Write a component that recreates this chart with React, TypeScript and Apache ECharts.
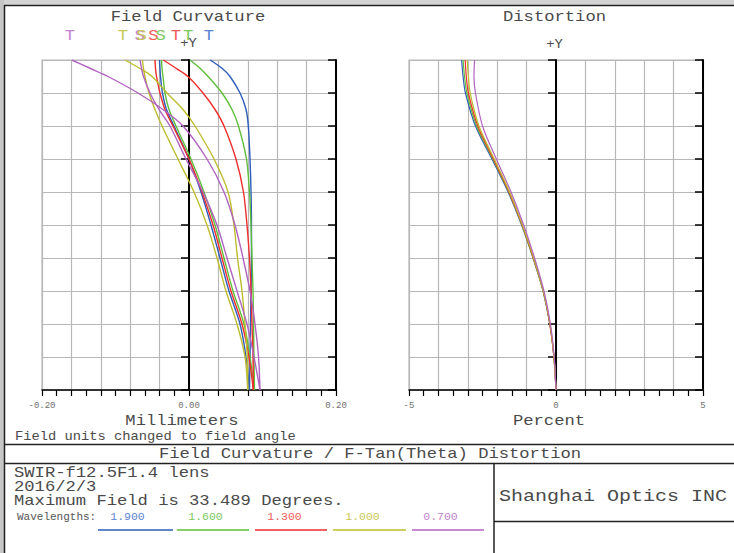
import React, { useEffect, useRef } from 'react';
import * as echarts from 'echarts';

// ---------- data ----------
const wavelengths = ['1.900', '1.600', '1.300', '1.000', '0.700'];
const lineColors = ['#2d5cba', '#5fbf3a', '#ee2d2d', '#bdbd2d', '#b163c0'];
const textColors = ['#5a84d2', '#7cc85c', '#f25a5a', '#c9c956', '#c284cc'];

// normalized field (0 .. 1 => 0 .. 33.489 deg)
const fieldFractions = [0, 0.1, 0.2, 0.3, 0.4, 0.5, 0.6, 0.7, 0.8, 0.85, 0.9, 0.95, 0.975, 1.0];

// field curvature, mm (tangential)
const tan1900 = [0.0823, 0.083, 0.0837, 0.0844, 0.085, 0.085, 0.0844, 0.083, 0.0807, 0.0776, 0.0694, 0.0558, 0.0449, 0.0286];
const tan1600 = [0.0891, 0.0884, 0.0878, 0.0871, 0.0857, 0.0844, 0.0823, 0.0782, 0.0673, 0.0585, 0.0449, 0.0259, 0.015, 0.0014];
const tan1300 = [0.0875, 0.0871, 0.0857, 0.0844, 0.0823, 0.0789, 0.0741, 0.0639, 0.0476, 0.0354, 0.019, -0.0014, -0.0177, -0.035];
const tan1000 = [0.0799, 0.0793, 0.0762, 0.0721, 0.066, 0.0612, 0.0531, 0.034, 0.0082, -0.0082, -0.0299, -0.0503, -0.0673, -0.0871];
const tan0700 = [0.0966, 0.0946, 0.0898, 0.083, 0.0735, 0.0626, 0.0476, 0.0245, -0.0082, -0.0354, -0.0694, -0.1102, -0.1347, -0.1596];

// field curvature, mm (sagittal)
const sag1900 = [0.0823, 0.0776, 0.0694, 0.0544, 0.0422, 0.0299, 0.0163, 0.0, -0.0204, -0.0306, -0.0361, -0.0388, -0.0395, -0.0401];
const sag1600 = [0.0891, 0.083, 0.0748, 0.0599, 0.0476, 0.0354, 0.0204, 0.0027, -0.0177, -0.0272, -0.0327, -0.0354, -0.0367, -0.0374];
const sag1300 = [0.0875, 0.0816, 0.0721, 0.0571, 0.0449, 0.0327, 0.0177, 0.0, -0.0218, -0.0327, -0.0395, -0.0442, -0.0456, -0.0463];
const sag1000 = [0.0799, 0.0762, 0.0653, 0.0503, 0.0381, 0.0245, 0.0068, -0.015, -0.0367, -0.0463, -0.0544, -0.0599, -0.0619, -0.0635];
const sag0700 = [0.0966, 0.0884, 0.0789, 0.0653, 0.0517, 0.0381, 0.019, -0.0041, -0.0259, -0.0408, -0.0531, -0.0619, -0.0646, -0.0667];

// distortion, percent
const distFractions = [0, 0.1, 0.2, 0.3, 0.4, 0.5, 0.6, 0.7, 0.8, 0.9, 0.95, 1.0];
const dist1900 = [0, -0.07, -0.21, -0.44, -0.78, -1.17, -1.63, -2.18, -2.74, -3.08, -3.16, -3.21];
const dist1600 = [0, -0.07, -0.21, -0.44, -0.78, -1.16, -1.61, -2.15, -2.7, -3.03, -3.11, -3.16];
const dist1300 = [0, -0.07, -0.21, -0.43, -0.77, -1.15, -1.6, -2.13, -2.66, -2.98, -3.05, -3.09];
const dist1000 = [0, -0.07, -0.2, -0.43, -0.76, -1.14, -1.58, -2.1, -2.62, -2.92, -2.98, -3.02];
const dist0700 = [0, -0.06, -0.19, -0.41, -0.73, -1.1, -1.53, -2.03, -2.5, -2.74, -2.79, -2.77];

// T / S label positions above the plot (mm)
const tLabelX = [0.0272, -0.001, -0.0177, -0.0898, -0.1619];
const sLabelX = [null, -0.0385, -0.0486, -0.0644, -0.0673];

const fcTicks = ['-0.20', '0.00', '0.20'];
const distTicks = ['-5', '0', '5'];

const tanAll = [tan1900, tan1600, tan1300, tan1000, tan0700];
const sagAll = [sag1900, sag1600, sag1300, sag1000, sag0700];
const distAll = [dist1900, dist1600, dist1300, dist1000, dist0700];

const MONO = '"Liberation Mono", "DejaVu Sans Mono", monospace';
const GRID_C = '#b8b8b8';
const INK = '#4a4a4a';

function txt(text: string, x: number, y: number, o: any = {}) {
  const align = o.align || 'center';
  return {
    type: 'text',
    x,
    y,
    scaleX: o.scaleX ?? 1,
    z: 100,
    silent: true,
    style: {
      text,
      fontFamily: MONO,
      fontSize: o.fontSize ?? 15,
      fill: o.fill ?? INK,
      align,
      textAlign: align,
      verticalAlign: 'middle',
      textVerticalAlign: 'middle',
    },
  };
}

function ln(x1: number, y1: number, x2: number, y2: number, stroke = '#222', lineWidth = 1.5) {
  return { type: 'line', z: 100, silent: true, shape: { x1, y1, x2, y2 }, style: { stroke, lineWidth } };
}

function near(a: number, b: number) {
  return Math.abs(a - b) < 1e-9;
}

export default function App() {
  const ref = useRef<HTMLDivElement>(null);

  useEffect(() => {
    if (!ref.current) return;
    const chart = echarts.init(ref.current, null, { renderer: 'svg' });

    const xAxisBase = (gridIndex: number, min: number, max: number, interval: number, fmt: (v: number) => string) => ({
      gridIndex,
      type: 'value',
      min,
      max,
      interval,
      axisLine: { show: true, onZero: false, lineStyle: { color: '#000', width: 1.5 } },
      axisTick: { show: true, length: 6, inside: false, lineStyle: { color: '#000', width: 1.2 } },
      minorTick: { show: true, splitNumber: 2, length: 6, lineStyle: { color: '#000', width: 1.2 } },
      splitLine: { show: true, lineStyle: { color: GRID_C, width: 1.2 } },
      axisLabel: {
        show: true,
        formatter: fmt,
        fontSize: 9,
        color: '#707070',
        fontFamily: MONO,
        margin: 11,
        showMinLabel: true,
        showMaxLabel: true,
        hideOverlap: false,
      },
    });

    const yAxisBase = (gridIndex: number, inside: boolean, split: boolean) => ({
      gridIndex,
      type: 'value',
      min: 0,
      max: 1,
      interval: 0.1,
      axisLine: { show: true, onZero: true, lineStyle: { color: '#000', width: 2 } },
      axisTick: { show: true, length: 8, inside, lineStyle: { color: '#000', width: 1.5 } },
      axisLabel: { show: false },
      splitLine: { show: split, lineStyle: { color: GRID_C, width: 1.2 } },
    });

    const fcFmt = (v: number) => {
      if (near(v, -0.2)) return fcTicks[0];
      if (near(v, 0)) return fcTicks[1];
      if (near(v, 0.2)) return fcTicks[2];
      return '';
    };
    const dFmt = (v: number) => {
      if (near(v, -5)) return distTicks[0];
      if (near(v, 0)) return distTicks[1];
      if (near(v, 5)) return distTicks[2];
      return '';
    };

    const series: any[] = [];
    wavelengths.forEach((w, i) => {
      series.push({
        name: 'T ' + w,
        type: 'line',
        xAxisIndex: 0,
        yAxisIndex: 0,
        data: fieldFractions.map((f, j) => [tanAll[i][j], f]),
        symbol: 'none',
        showSymbol: false,
        smooth: 0.3,
        silent: true,
        lineStyle: { color: lineColors[i], width: 1.4 },
      });
      series.push({
        name: 'S ' + w,
        type: 'line',
        xAxisIndex: 0,
        yAxisIndex: 0,
        data: fieldFractions.map((f, j) => [sagAll[i][j], f]),
        symbol: 'none',
        showSymbol: false,
        smooth: 0.3,
        silent: true,
        lineStyle: { color: lineColors[i], width: 1.4 },
      });
    });
    wavelengths.forEach((w, i) => {
      series.push({
        name: 'D ' + w,
        type: 'line',
        xAxisIndex: 1,
        yAxisIndex: 2,
        data: distFractions.map((f, j) => [distAll[i][j], f]),
        symbol: 'none',
        showSymbol: false,
        smooth: 0.3,
        silent: true,
        lineStyle: { color: lineColors[i], width: 1.2 },
      });
    });

    const titleScale = 1.145;
    const baseGraphic: any[] = [
      { type: 'rect', z: 99, silent: true, shape: { x: 0, y: 0, width: 734, height: 5 }, style: { fill: '#d3d3d3' } },
      { type: 'rect', z: 99, silent: true, shape: { x: 0, y: 0, width: 4, height: 553 }, style: { fill: '#c6c6c6' } },
      ln(4, 5.5, 734, 5.5),
      ln(4.5, 5, 4.5, 553),
      ln(4, 444.5, 734, 444.5),
      ln(4, 463.5, 734, 463.5),
      ln(494, 463.5, 494, 553),
      ln(494, 521.5, 734, 521.5),
      txt('Field Curvature', 188, 17, { scaleX: titleScale }),
      txt('Distortion', 554.5, 17, { scaleX: titleScale }),
      txt('+Y', 188.5, 44, { fontSize: 12, scaleX: 1.15 }),
      txt('+Y', 554.5, 45, { fontSize: 12, scaleX: 1.15 }),
      txt('Millimeters', 182, 421.5, { scaleX: titleScale }),
      txt('Percent', 549, 421.5, { scaleX: titleScale }),
      txt('Field units changed to field angle', 15, 436.5, { fontSize: 13, scaleX: 1.06, align: 'left' }),
      txt('Field Curvature / F-Tan(Theta) Distortion', 370, 454, { scaleX: titleScale }),
      txt('SWIR-f12.5F1.4 lens', 14, 473, { scaleX: titleScale, align: 'left' }),
      txt('2016/2/3', 14, 487, { scaleX: titleScale, align: 'left' }),
      txt('Maximum Field is 33.489 Degrees.', 14, 501, { scaleX: titleScale, align: 'left' }),
      txt('Shanghai Optics INC', 499, 497, { fontSize: 16, scaleX: 1.25, align: 'left' }),
      txt('Wavelengths:', 17, 516.5, { fontSize: 11, align: 'left', fill: '#555' }),
    ];
    const wlCenters = [127.5, 205.5, 284.5, 362.5, 440.5];
    const wlLines = [[98, 173], [177, 249], [255, 327], [333, 406], [412, 484]];
    wavelengths.forEach((w, i) => {
      baseGraphic.push(txt(w, wlCenters[i], 516.5, { fontSize: 11.5, fill: textColors[i] }));
      baseGraphic.push(ln(wlLines[i][0], 530, wlLines[i][1], 530, lineColors[i], 1.6));
    });

    const option: any = {
      animation: false,
      backgroundColor: '#ffffff',
      grid: [
        { left: 42, top: 60, width: 294, height: 330, show: true, borderColor: GRID_C, borderWidth: 1.2 },
        { left: 409, top: 60, width: 294, height: 330, show: true, borderColor: GRID_C, borderWidth: 1.2 },
      ],
      xAxis: [xAxisBase(0, -0.2, 0.2, 0.04, fcFmt), xAxisBase(1, -5, 5, 1, dFmt)],
      yAxis: [yAxisBase(0, false, true), yAxisBase(0, true, false), yAxisBase(1, false, true), yAxisBase(1, true, false)],
      series,
      graphic: baseGraphic,
    };

    chart.setOption(option);

    // T / S labels above the field curvature plot, placed by the axis scale
    const labels: any[] = [];
    const labelY = 35.8;
    const order = [4, 3, 2, 1, 0];
    order.forEach((i) => {
      const sx = sLabelX[i];
      if (sx !== null) {
        const p = chart.convertToPixel({ xAxisIndex: 0, yAxisIndex: 0 }, [sx, 1]) as number[];
        if (p) labels.push(txt('S', p[0], labelY, { fill: textColors[i], scaleX: titleScale }));
      }
    });
    order.forEach((i) => {
      const p = chart.convertToPixel({ xAxisIndex: 0, yAxisIndex: 0 }, [tLabelX[i], 1]) as number[];
      if (p) labels.push(txt('T', p[0], labelY, { fill: textColors[i], scaleX: titleScale }));
    });

    chart.setOption({ ...option, graphic: [...baseGraphic, ...labels] }, true);

    return () => chart.dispose();
  }, []);

  return (
    <div
      ref={ref}
      style={{ position: 'fixed', left: 0, top: 0, width: 734, height: 553, background: '#fff' }}
    />
  );
}
